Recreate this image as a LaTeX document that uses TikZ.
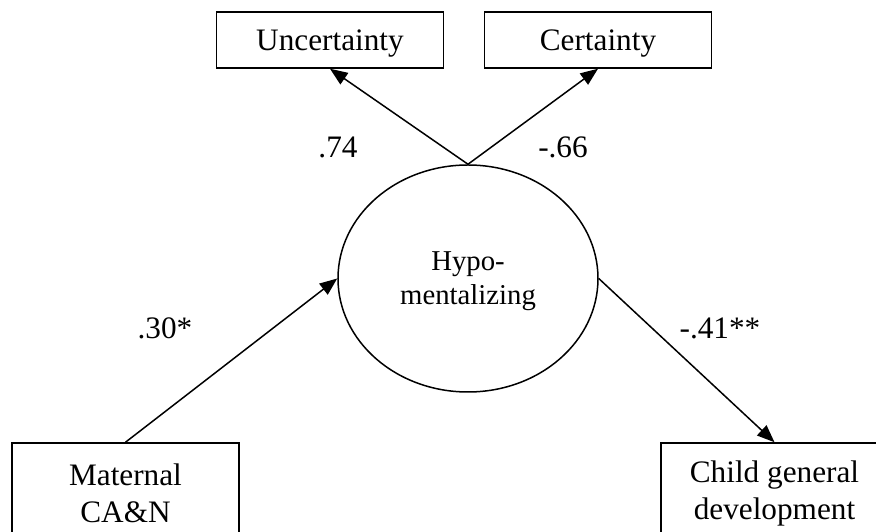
\documentclass[tikz,border=0pt]{standalone}
\usepackage{fontspec}
\setmainfont{Liberation Serif}
\usetikzlibrary{arrows.meta,shapes.geometric}

\tikzset{
    varbox/.style={draw, line width=0.6pt, rectangle, inner sep=0pt, align=center,
        minimum width=90.8pt, font=\fontsize{12.5}{14.8}\selectfont},
    latent/.style={draw, line width=0.6pt, ellipse, inner sep=0pt, align=center,
        minimum width=104pt, minimum height=90.8pt, font=\fontsize{11.5}{13.6}\selectfont},
    path/.style={line width=0.6pt, -{Triangle[length=7pt, width=5.5pt]}},
    coef/.style={font=\fontsize{12.5}{14.8}\selectfont, inner sep=0pt}
}

\begin{document}
\begin{tikzpicture}[x=0.4pt, y=-0.4pt]
        \useasboundingbox (0,0) rectangle (876,532);
        \clip (0,0) rectangle (876,532);

        \node[varbox, minimum height=22.4pt, text depth=0pt] (unc) at (330, 40) {Uncertainty};
        \node[varbox, minimum height=22.4pt, text depth=0pt] (cert) at (598, 40) {Certainty};
        \node[latent, text depth=0pt] (hypo) at (468, 278.5) {Hypo-\\mentalizing};
        \node[varbox, minimum height=40pt] (mat) at (125.5, 493) {Maternal\\CA\&N};
        \node[varbox, minimum height=40pt] (child) at (774.5, 493) {Child general\\development};

        \draw[path] (hypo.north) -- (unc.south);
        \draw[path] (hypo.north) -- (cert.south);
        \draw[path] (mat.north) -- (hypo.west);
        \draw[path] (hypo.east) -- (child.north);

        \node[coef] (c1) at (338, 147) {.74};
        \node[coef] (c2) at (563, 147) {-.66};
        \node[coef] (c3) at (165, 328) {.30*};
        \node[coef] (c4) at (720, 328) {-.41**};
    \end{tikzpicture}
\end{document}
